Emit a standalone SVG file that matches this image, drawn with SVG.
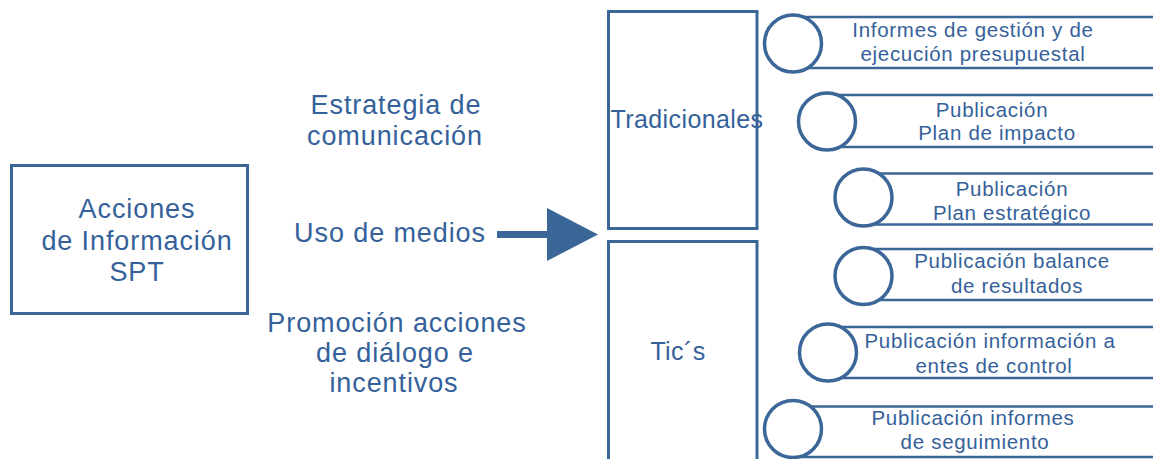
<svg xmlns="http://www.w3.org/2000/svg" width="1153" height="459" viewBox="0 0 1153 459">
  <style>
    .box { fill: #ffffff; stroke: #3b6698; stroke-width: 3; }
    .bar { fill: #ffffff; stroke: #3b6698; stroke-width: 2.5; }
    .dot { fill: #ffffff; stroke: #3b6698; stroke-width: 3.5; }
    text { font-family: "Liberation Sans", Arial, sans-serif; fill: #35619a; text-anchor: middle; }
    .big { font-size: 27px; letter-spacing: 0.9px; }
    .mid { font-size: 25px; letter-spacing: 0.4px; }
    .sm { font-size: 20.5px; letter-spacing: 0.7px; }
  </style>
  <rect width="1153" height="459" fill="#ffffff"/>

  <g id="acciones">
    <rect class="box" x="11.5" y="165.5" width="236" height="148"/>
    <text class="big" x="137" y="218">Acciones</text>
    <text class="big" x="137" y="250">de Información</text>
    <text class="big" x="137" y="281">SPT</text>
  </g>

  <g id="estrategia">
    <text class="big" x="396" y="114">Estrategia de</text>
    <text class="big" x="395" y="145">comunicación</text>
  </g>
  <g id="uso">
    <text class="big" x="390" y="242">Uso de medios</text>
  </g>
  <g id="promocion">
    <text class="big" x="397" y="332">Promoción acciones</text>
    <text class="big" x="395" y="362">de diálogo e</text>
    <text class="big" x="394" y="392">incentivos</text>
  </g>

  <g id="connectors">
    <path d="M497 231 H547 V208 L598 234.5 L547 261 V238 H497 Z" fill="#3b6698"/>
  </g>

  <g id="tradicionales">
    <rect class="box" x="608.5" y="11.5" width="148.5" height="217"/>
    <text class="mid" x="687" y="128">Tradicionales</text>
  </g>
  <g id="tics">
    <rect class="box" x="608.5" y="241.5" width="148.5" height="240"/>
    <text class="mid" x="678" y="360">Tic´s</text>
  </g>

  <g id="item1">
    <rect class="bar" x="793" y="17" width="380" height="51"/>
    <circle class="dot" cx="793" cy="43.5" r="28.5"/>
    <text class="sm" x="973" y="37">Informes de gestión y de</text>
    <text class="sm" x="973" y="61">ejecución presupuestal</text>
  </g>
  <g id="item2">
    <rect class="bar" x="827" y="95" width="346" height="52"/>
    <circle class="dot" cx="827" cy="121.5" r="28.5"/>
    <text class="sm" x="992" y="117">Publicación</text>
    <text class="sm" x="997" y="140">Plan de impacto</text>
  </g>
  <g id="item3">
    <rect class="bar" x="863.5" y="173.5" width="310" height="51"/>
    <circle class="dot" cx="863.5" cy="197.5" r="28.5"/>
    <text class="sm" x="1012" y="196">Publicación</text>
    <text class="sm" x="1012" y="220">Plan estratégico</text>
  </g>
  <g id="item4">
    <rect class="bar" x="863.5" y="249" width="310" height="51"/>
    <circle class="dot" cx="863.5" cy="276" r="28.5"/>
    <text class="sm" x="1012" y="268">Publicación balance</text>
    <text class="sm" x="1017" y="293">de resultados</text>
  </g>
  <g id="item5">
    <rect class="bar" x="828" y="327" width="345" height="51"/>
    <circle class="dot" cx="828" cy="352.5" r="28.5"/>
    <text class="sm" x="990" y="348">Publicación información a</text>
    <text class="sm" x="994" y="373">entes de control</text>
  </g>
  <g id="item6">
    <rect class="bar" x="793" y="406.5" width="380" height="50.5"/>
    <circle class="dot" cx="793" cy="429" r="28.5"/>
    <text class="sm" x="973" y="425">Publicación informes</text>
    <text class="sm" x="975" y="449">de seguimiento</text>
  </g>
</svg>
